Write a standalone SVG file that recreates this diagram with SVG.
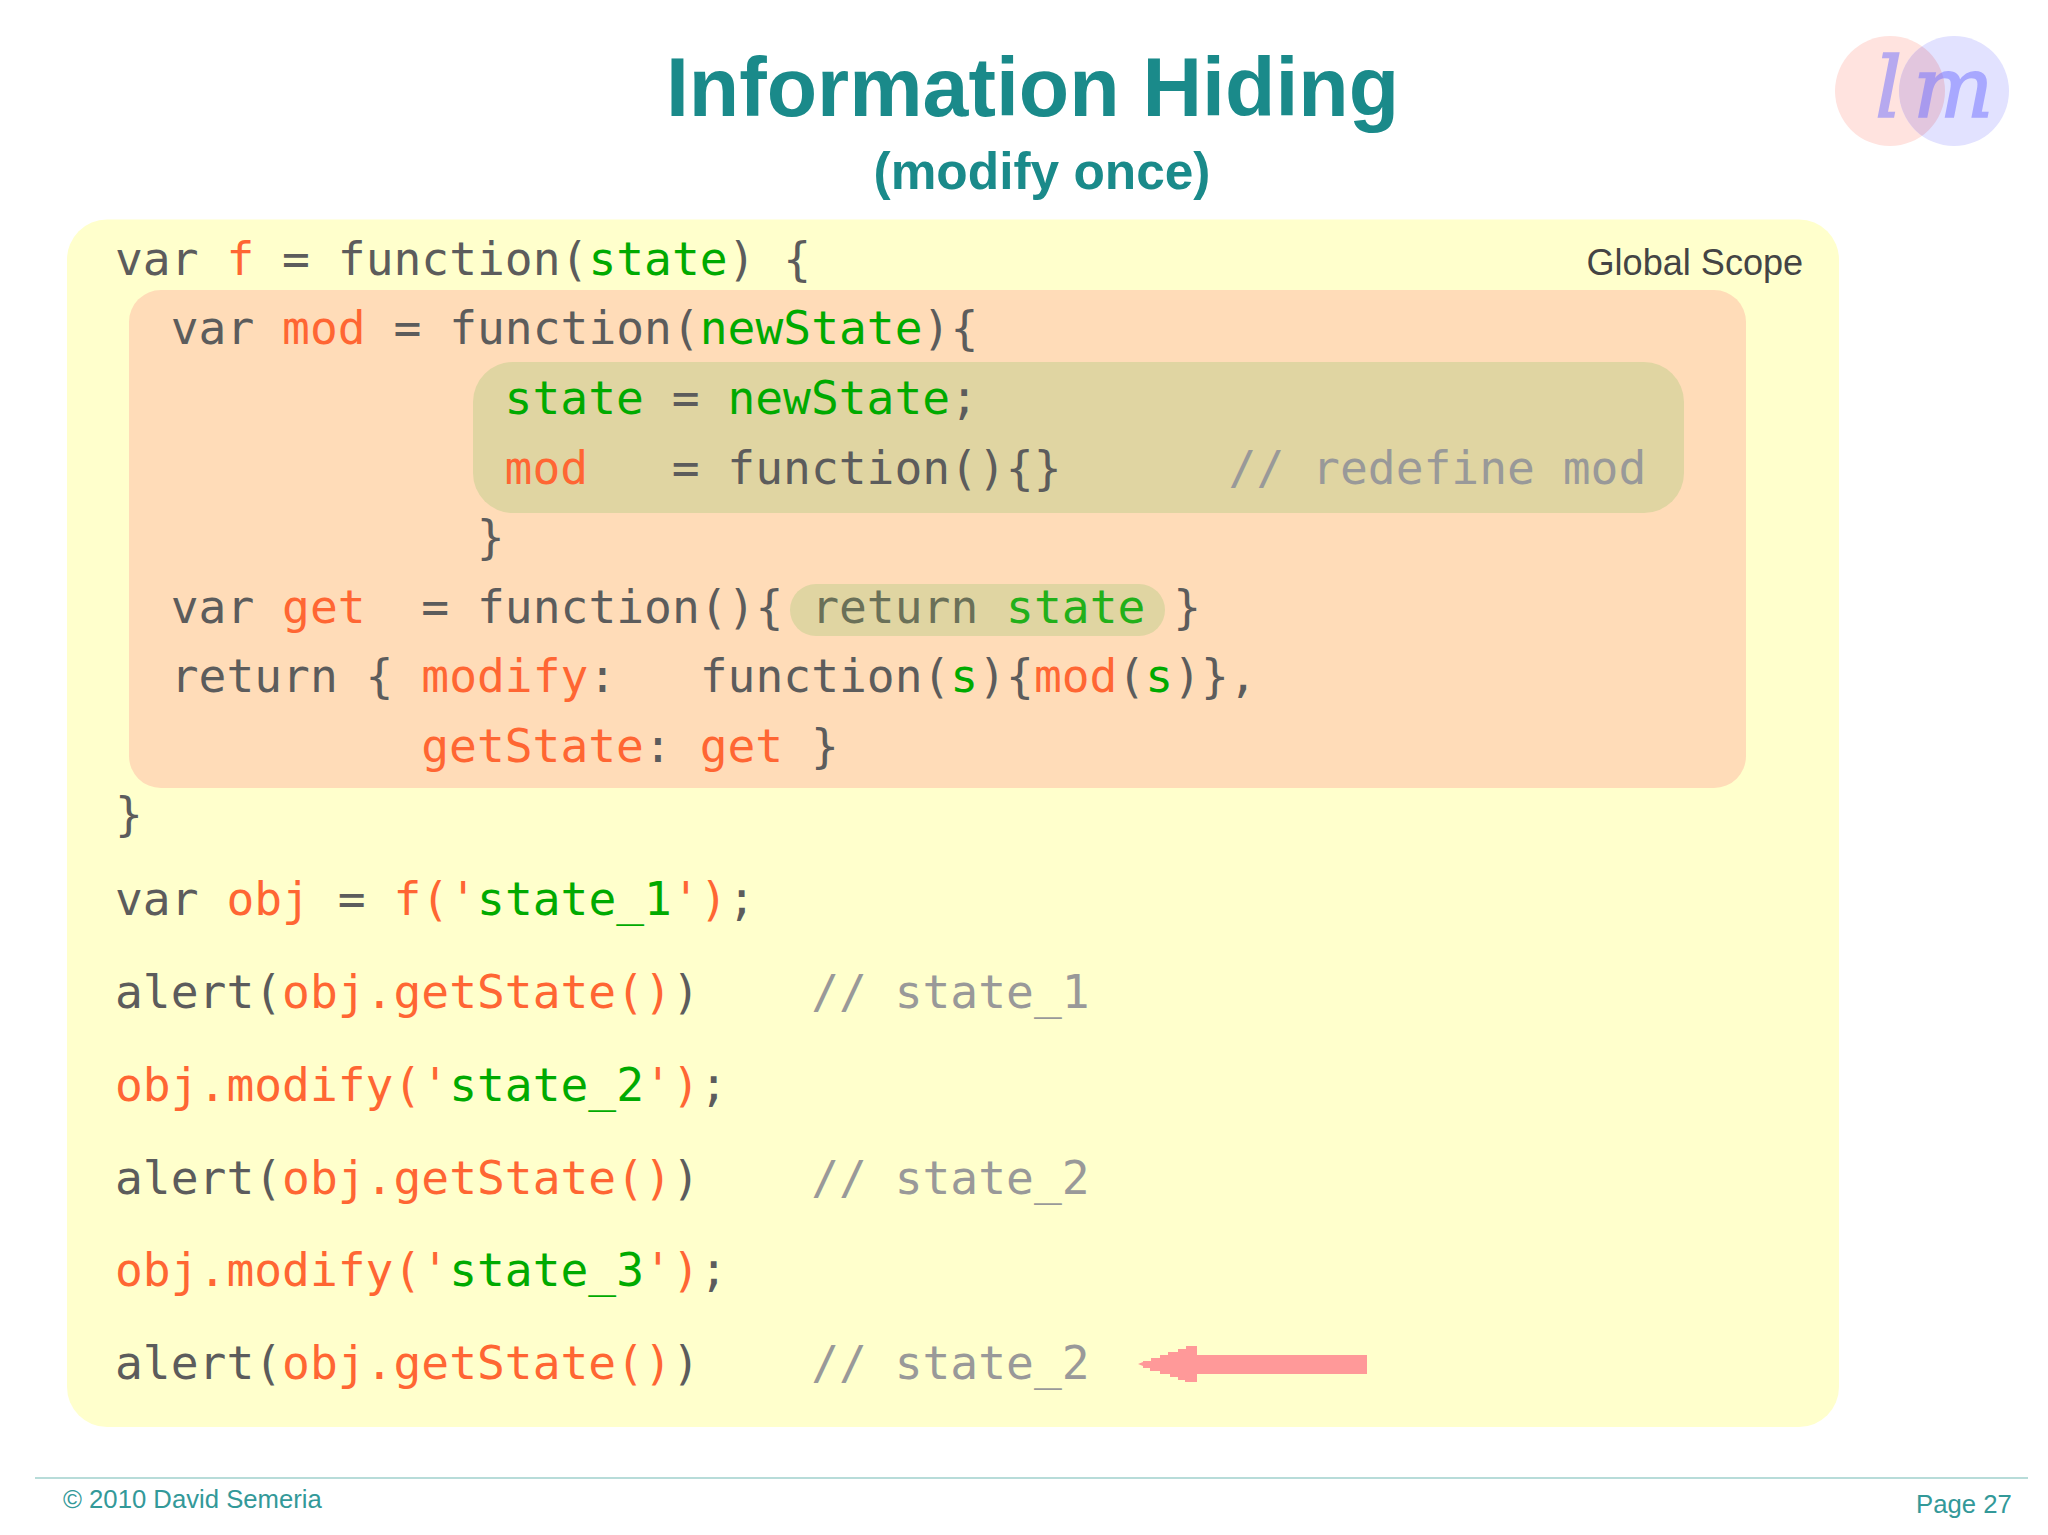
<svg xmlns="http://www.w3.org/2000/svg" width="2048" height="1535" viewBox="0 0 2048 1535">
<style>
.c{font-family:"DejaVu Sans Mono","Liberation Mono",monospace;font-size:46.25px;fill:#5c5c5c;white-space:pre}
.o{fill:#ff6633}.g{fill:#00aa00}.k{fill:#999}
.s{font-family:"Liberation Sans",Arial,sans-serif}
.t{fill:#1a8a8a;font-weight:bold;text-anchor:middle}
.f{fill:#339999;font-size:25.7px}
.lm{font-family:"DejaVu Serif",serif;font-style:italic;font-size:85px;fill:#7070ff;stroke:#7070ff;stroke-width:1.6px;opacity:.5}
</style>
<defs><clipPath id="pinkclip"><circle cx="1890" cy="91" r="55"/></clipPath></defs>
<rect width="2048" height="1535" fill="#fff"/>
<g id="logo">
<circle cx="1890" cy="91" r="55" fill="#ffe3df"/>
<circle cx="1954" cy="91" r="55" fill="#e2e2ff"/>
<circle cx="1954" cy="91" r="55" fill="#e2c6de" clip-path="url(#pinkclip)"/>
<text class="lm" x="1875" y="117">l</text>
<text class="lm" x="1913" y="117">m</text>
</g>
<g id="title">
<text class="s t" x="1032.5" y="116" font-size="82.5">Information Hiding</text>
<text class="s t" x="1042" y="189.3" font-size="51.4">(modify once)</text>
</g>
<g id="global-scope">
<rect x="67" y="219.5" width="1772" height="1207.5" rx="40" fill="#ffffcc"/>
<text class="s" x="1586.5" y="274.7" font-size="36.1" fill="#444">Global Scope</text>
</g>
<g id="function-scope"><rect x="129" y="290" width="1617" height="498" rx="32" fill="#ffdcb8"/></g>
<g id="mod-body"><rect x="473" y="362" width="1211" height="151" rx="40" fill="#e0d5a2"/></g>
<g id="get-body"><rect x="790" y="584" width="375" height="52" rx="26" fill="#e0d5a2"/></g>
<g id="code">
<text class="c" x="115" y="274.5" xml:space="preserve">var <tspan class="o">f</tspan> = function(<tspan class="g">state</tspan>) {</text>
<text class="c" x="170.7" y="344" xml:space="preserve">var <tspan class="o">mod</tspan> = function(<tspan class="g">newState</tspan>){</text>
<text class="c" x="504.6" y="414" xml:space="preserve"><tspan class="g">state</tspan> = <tspan class="g">newState</tspan>;</text>
<text class="c" x="504.6" y="484" xml:space="preserve"><tspan class="o">mod</tspan>   = function(){}      <tspan class="k">// redefine mod</tspan></text>
<text class="c" x="476.8" y="552.5" xml:space="preserve">}</text>
<text class="c" x="170.7" y="622.5" xml:space="preserve">var <tspan class="o">get</tspan>  = function(){ <tspan style="fill:#6a7058">return</tspan> <tspan style="fill:#22b01a">state</tspan> }</text>
<text class="c" x="170.7" y="692" xml:space="preserve">return { <tspan class="o">modify</tspan>:   function(<tspan class="g">s</tspan>){<tspan class="o">mod</tspan>(<tspan class="g">s</tspan>)},</text>
<text class="c" x="421.2" y="762" xml:space="preserve"><tspan class="o">getState</tspan>: <tspan class="o">get</tspan> }</text>
<text class="c" x="115" y="830" xml:space="preserve">}</text>
<text class="c" x="115" y="914.5" xml:space="preserve">var <tspan class="o">obj</tspan> = <tspan class="o">f('</tspan><tspan class="g">state_1</tspan><tspan class="o">')</tspan>;</text>
<text class="c" x="115" y="1007.5" xml:space="preserve">alert(<tspan class="o">obj.getState()</tspan>)    <tspan class="k">// state_1</tspan></text>
<text class="c" x="115" y="1100.5" xml:space="preserve"><tspan class="o">obj.modify('</tspan><tspan class="g">state_2</tspan><tspan class="o">')</tspan>;</text>
<text class="c" x="115" y="1193.5" xml:space="preserve">alert(<tspan class="o">obj.getState()</tspan>)    <tspan class="k">// state_2</tspan></text>
<text class="c" x="115" y="1286" xml:space="preserve"><tspan class="o">obj.modify('</tspan><tspan class="g">state_3</tspan><tspan class="o">')</tspan>;</text>
<text class="c" x="115" y="1379" xml:space="preserve">alert(<tspan class="o">obj.getState()</tspan>)    <tspan class="k">// state_2</tspan></text>
</g>
<g id="connectors">
<polygon points="1138,1364 1143,1362 1143,1361 1151,1361 1151,1358 1160,1358 1160,1355 1168,1355 1168,1352 1178,1352 1178,1349 1186,1349 1186,1346 1197,1346 1197,1344 1197,1355 1367,1355 1367,1374 1197,1374 1197,1382 1185,1382 1185,1380 1178,1380 1178,1377 1170,1377 1170,1374 1160,1374 1160,1371 1150,1371 1150,1368 1143,1368 1143,1366" fill="#ff9999"/>
</g>
<g id="footer">
<line x1="35" y1="1478" x2="2028" y2="1478" stroke="#a0d0cc" stroke-width="1.5"/>
<text class="s f" x="63" y="1508">© 2010 David Semeria</text>
<text class="s f" x="1916" y="1513">Page 27</text>
</g>
</svg>
